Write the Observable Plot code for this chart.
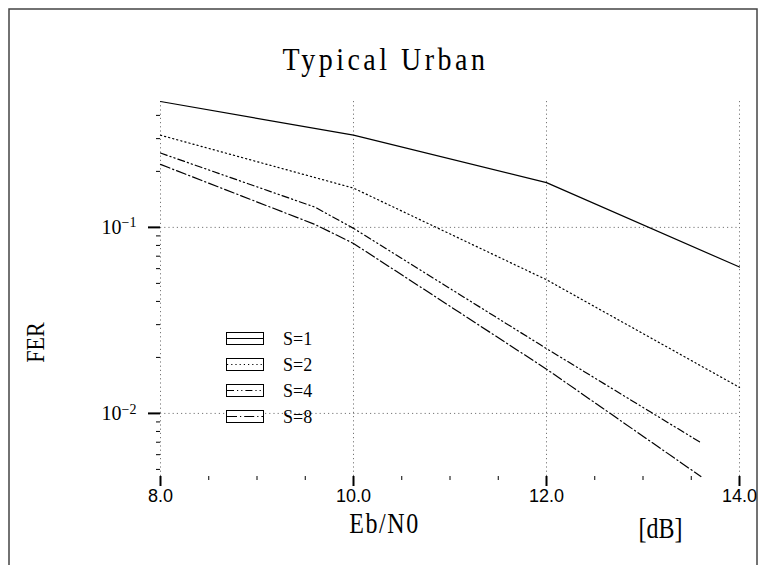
<!DOCTYPE html>
<html><head><meta charset="utf-8">
<script src="https://cdn.jsdelivr.net/npm/d3@7"></script>
<script src="https://cdn.jsdelivr.net/npm/@observablehq/plot@0.6"></script>
<style>html,body{margin:0;padding:0;background:#fff;overflow:hidden}</style>
</head><body><div id="chart"></div>
<script>
// ---- data ----
const ebn0_a = [8, 10, 12, 14];
const fer_s1 = [0.475, 0.313, 0.174, 0.0612];
const fer_s2 = [0.313, 0.1626, 0.0523, 0.0138];
const ebn0_b = [8, 9.6, 10, 12, 13.6];
const fer_s4 = [0.251, 0.1285, 0.0988, 0.0223, 0.00696];
const fer_s8 = [0.218, 0.1037, 0.082, 0.0173, 0.00458];
const seriesNames = ["S=1", "S=2", "S=4", "S=8"];
const xMajorTicks = [8, 10, 12, 14];
const xMinorTicks = [8.5, 9, 9.5, 10.5, 11, 11.5, 12.5, 13, 13.5];
const yMajorTicks = [0.1, 0.01];
const yMajorExponents = ["−1", "−2"];
const yMinorTicks = [0.005, 0.006, 0.007, 0.008, 0.009, 0.02, 0.03, 0.04, 0.05, 0.06, 0.07, 0.08, 0.09, 0.2, 0.3, 0.4];
const titleText = "Typical Urban";
const xLabel = "Eb/N0";
const unitLabel = "[dB]";
const yLabel = "FER";

// ---- table ----
const rows = [];
[[ebn0_a, fer_s1], [ebn0_a, fer_s2], [ebn0_b, fer_s4], [ebn0_b, fer_s8]].forEach(([xs, ys], k) =>
  xs.forEach((x, i) => rows.push({series: seriesNames[k], ebn0: x, fer: ys[i]})));

const dashes = {"S=1": null, "S=2": "1.2,3", "S=4": "7,3,1.2,3,1.2,3", "S=8": "10,3,1.2,3"};
const yDomain = d3.extent(rows, d => d.fer);

const gridStyle = {stroke: "#777", strokeOpacity: 1, strokeWidth: 1, strokeDasharray: "1.2,3"};
const serif = "'Liberation Serif', 'DejaVu Serif', serif";
const sans = "'Liberation Sans', 'DejaVu Sans', sans-serif";
const labelText = {textAnchor: "middle", lineAnchor: "middle", frameAnchor: "top-left", fontFamily: serif, fill: "black"};

const chart = Plot.plot({
  width: 759,
  height: 565,
  marginLeft: 160,
  marginRight: 20,
  marginTop: 101,
  marginBottom: 89,
  style: {background: "white", color: "black"},
  x: {domain: [8, 14]},
  y: {type: "log", domain: yDomain},
  marks: [
    Plot.frame({stroke: "#444", strokeWidth: 1.5, insetLeft: -151.5, insetTop: -92.5, insetRight: -17.5, insetBottom: -150}),
    Plot.gridX({ticks: xMajorTicks, ...gridStyle}),
    Plot.gridY({ticks: yMajorTicks, ...gridStyle}),
    Plot.axisX({ticks: xMinorTicks, tickSize: 4, tickFormat: () => "", label: null, strokeWidth: 1}),
    Plot.axisX({ticks: xMajorTicks, tickSize: 10, tickPadding: 3, tickFormat: d3.format(".1f"), label: null, strokeWidth: 2}),
    Plot.axisY({ticks: yMinorTicks, tickSize: 4, tickFormat: () => "", label: null, strokeWidth: 1}),
    Plot.axisY({ticks: yMajorTicks, tickSize: 12, tickPadding: 12, label: null, strokeWidth: 2,
      tickFormat: d => "10^" + yMajorExponents[yMajorTicks.indexOf(d)]}),
    ...seriesNames.map(s => Plot.line(rows.filter(r => r.series === s), {
      x: "ebn0", y: "fer", stroke: "black", strokeWidth: 1.2,
      strokeDasharray: dashes[s] || undefined
    })),
    Plot.text([titleText], {...labelText, dx: 225, dy: -41, fontSize: 28}),
    Plot.text([xLabel], {...labelText, dx: 224, dy: 422, fontSize: 24}),
    Plot.text([unitLabel], {...labelText, dx: 500, dy: 427, fontSize: 24}),
    Plot.text([yLabel], {...labelText, dx: -125, dy: 241, rotate: -90, fontSize: 22})
  ]
});
document.getElementById("chart").appendChild(chart);

const svg = d3.select(chart);

// ---- tall lettering for the labels ----
const tallSpec = new Map([[titleText, {s: 1.1, ls: 3.5}], [xLabel, {s: 1.2, ls: 1.6}], [unitLabel, {s: 1.2, ls: 0}], [yLabel, {s: 1.15, ls: 0}]]);
svg.selectAll("text").filter(function() { return tallSpec.has(this.textContent); }).each(function() {
  const spec = tallSpec.get(this.textContent);
  this.style.letterSpacing = spec.ls + "px";
  const t = this.getAttribute("transform");
  if (t) this.setAttribute("transform", t + ` scale(1,${spec.s})`);
  else {
    const x = this.getAttribute("x") || 0, y = this.getAttribute("y") || 0;
    this.setAttribute("x", 0); this.setAttribute("y", 0);
    this.setAttribute("transform", `translate(${x},${y}) scale(1,${spec.s})`);
  }
});

// ---- x tick label font ----
const xTickStrings = xMajorTicks.map(d3.format(".1f"));
svg.selectAll("text").filter(function() { return xTickStrings.includes(this.textContent); })
  .attr("font-size", 18).style("font-size", "18px").style("font-family", sans);

// ---- superscript exponents on y tick labels ----
svg.selectAll("text").filter(function() { return this.textContent.startsWith("10^"); }).each(function() {
  const [base, exp] = this.textContent.split("^");
  const t = d3.select(this);
  t.attr("font-size", 20).style("font-size", "20px").style("font-family", serif);
  t.text(null);
  t.append("tspan").text(base);
  t.append("tspan").attr("dy", "-0.45em").style("font-size", "14px").text(exp);
});

// ---- legend ----
const legend = svg.append("g").attr("class", "legend").attr("text-anchor", "start");
seriesNames.forEach((s, i) => {
  const cy = 338.5 + 26 * i;
  legend.append("rect").attr("x", 226.5).attr("y", cy - 6).attr("width", 37).attr("height", 12)
    .attr("fill", "white").attr("stroke", "black").attr("stroke-width", 1);
  legend.append("line").attr("x1", 227).attr("x2", 263).attr("y1", cy).attr("y2", cy)
    .attr("stroke", "black").attr("stroke-width", 1.2)
    .attr("stroke-dasharray", dashes[s] || null);
  legend.append("text").attr("x", 283).attr("y", cy).attr("dy", "0.35em")
    .attr("text-anchor", "start")
    .style("font-family", serif).style("font-size", "18px")
    .attr("fill", "black").text(s);
});
</script>
</body></html>
